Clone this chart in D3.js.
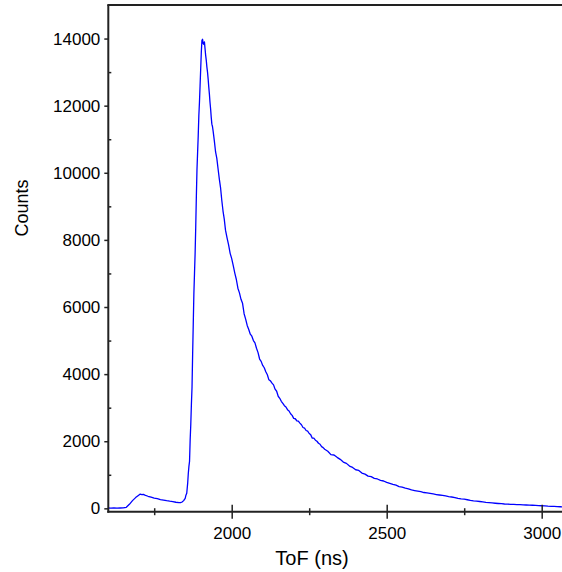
<!DOCTYPE html>
<html>
<head>
<meta charset="utf-8">
<script src="https://cdn.jsdelivr.net/npm/d3@7"></script>
<style>
html,body{margin:0;padding:0;background:#fff;}
svg{display:block;}
text{font-family:"Liberation Sans",Arial,sans-serif;fill:#000;}
</style>
</head>
<body>
<svg id="chart" width="562" height="572"></svg>
<script>
// ToF (ns) sample positions
const tof = [
 1600,1610,1620,1630,1640,1650,1660,1670,1680,1690,1700,1705,1710,1715,1720,1730,1740,1750,1760,1770,1780,1790,1800,1810,1820,1830,1835,1840,1845,1850,
 1852,1855,1858,1860,1862,1864,1866,1868,1870,1872,1874,1876,1878,1880,1882,1884,1886,1888,1890,1892,1894,1896,1898,1900,1902,1904,1906,1908,1910,1912,1914,1916,1918,1920,1922,1924,1926,1928,1930,1932,1934,1936,1938,
 1940,1944,1948,1952,1956,1960,1964,1968,1972,1976,1980,1985,1990,1995,2000,2005,2010,2015,2020,2025,2030,2035,2040,2045,2050,2055,2060,2065,2070,2075,2080,2085,2090,2095,2100,2105,2110,2115,2120,2125,2130,2135,2140,2145,2150,2155,2160,2165,2170,2175,2180,2185,2190,2195,2200,2205,2210,2215,2220,2225,2230,2235,2240,2245,2250,2255,2260,2265,2270,2275,2280,2285,2290,2295,2300,
 2310,2320,2330,2340,2350,2360,2370,2380,2390,2400,2410,2420,2430,2440,2450,2460,2470,2480,2490,2500,
 2510,2520,2530,2540,2550,2560,2570,2580,2590,2600,2610,2620,2630,2640,2650,2660,2670,2680,2690,2700,
 2710,2720,2730,2740,2750,2760,2770,2780,2790,2800,2810,2820,2830,2840,2850,2860,2870,2880,2890,2900,
 2910,2920,2930,2940,2950,2960,2970,2980,2990,3000,3010,3020,3030,3040,3050,3060,3070,3080
];
// Counts at each ToF position
const counts = [
 10,8,12,6,10,14,30,120,230,320,390,425,410,415,395,360,335,305,290,262,248,228,212,200,182,172,168,190,230,300,
 380,450,750,1040,1250,1400,2040,2500,3100,3600,4600,5500,6400,7000,7600,8400,9300,10100,10600,11100,11700,12100,12600,13100,13600,13950,13980,13850,13830,13900,13700,13500,13350,13150,13000,12800,12560,12350,12100,11900,11650,11450,11380,
 11250,10950,10620,10430,10120,9820,9560,9180,8860,8620,8290,8060,7850,7600,7440,7230,7010,6820,6560,6420,6230,6110,5800,5640,5450,5330,5190,5130,5000,4930,4770,4640,4450,4380,4260,4190,4070,3980,3830,3800,3730,3680,3550,3490,3340,3280,3190,3130,3060,3020,2940,2900,2820,2770,2680,2670,2610,2600,2540,2490,2410,2390,2320,2300,2230,2190,2090,2090,2030,2000,1940,1910,1840,1810,1760,
 1700,1600,1590,1520,1460,1380,1340,1260,1220,1150,1130,1050,1020,960,945,895,875,835,815,775,
 745,715,690,648,630,600,580,548,530,512,495,472,460,446,428,412,398,386,370,352,
 338,322,300,284,272,256,238,224,214,204,190,178,170,160,152,144,138,130,126,120,
 116,112,108,103,100,97,92,87,82,78,72,65,61,57,52,48,45,42
];
const xMajor = [2000, 2500, 3000];
const xMinor = [1750, 2250, 2750];
const yMajor = [0, 2000, 4000, 6000, 8000, 10000, 12000, 14000];
const yMinor = [1000, 3000, 5000, 7000, 9000, 11000, 13000];
const xTitle = "ToF (ns)";
const yTitle = "Counts";

const svg = d3.select("#chart");
const pL = 108.3, pR = 562, pT = 5, pB = 511.7;
const x = d3.scaleLinear().domain([2000, 3000]).range([231.7, 541.7]);
const y = d3.scaleLinear().domain([-100, 15000]).range([pB, pT]);

svg.append("defs").append("clipPath").attr("id","clip")
  .append("rect").attr("x", pL).attr("y", pT).attr("width", pR - pL).attr("height", pB - pT);

const data = tof.map((t,i)=>({t, c: counts[i]}));
svg.append("path")
  .datum(data)
  .attr("clip-path","url(#clip)")
  .attr("fill","none")
  .attr("stroke","#0000ff")
  .attr("stroke-width",1.3)
  .attr("stroke-linejoin","round")
  .attr("d", d3.line().x(d=>x(d.t)).y(d=>y(d.c)).curve(d3.curveLinear));

const axisColor = "#222";
// bottom axis
const gx = svg.append("g").attr("transform",`translate(0,${pB})`);
gx.call(d3.axisBottom(x).tickValues(xMajor).tickSize(7).tickPadding(8).tickFormat(d3.format("d")));
gx.select(".domain").remove();
gx.selectAll(".tick line").attr("y1",-7).attr("y2",7).attr("stroke",axisColor).attr("stroke-width",1.5);
gx.selectAll(".tick text").attr("font-size",17).attr("font-family","Liberation Sans, Arial, sans-serif");
const gxm = svg.append("g").attr("transform",`translate(0,${pB})`);
gxm.call(d3.axisBottom(x).tickValues(xMinor).tickSize(3.5).tickFormat(""));
gxm.select(".domain").remove();
gxm.selectAll(".tick line").attr("y1",-3.5).attr("y2",3.5).attr("stroke",axisColor).attr("stroke-width",1.5);

// left axis
const gy = svg.append("g").attr("transform",`translate(${pL},0)`);
gy.call(d3.axisLeft(y).tickValues(yMajor).tickSize(4).tickPadding(4).tickFormat(d3.format("d")));
gy.select(".domain").remove();
gy.selectAll(".tick line").attr("stroke",axisColor).attr("stroke-width",1.5);
gy.selectAll(".tick text").attr("font-size",17).attr("font-family","Liberation Sans, Arial, sans-serif");
const gym = svg.append("g").attr("transform",`translate(${pL},0)`);
gym.call(d3.axisRight(y).tickValues(yMinor).tickSize(3).tickFormat(""));
gym.select(".domain").remove();
gym.selectAll(".tick line").attr("stroke",axisColor).attr("stroke-width",1.5);

// frame lines
svg.append("line").attr("x1",pL).attr("x2",pL).attr("y1",pT).attr("y2",pB+1)
  .attr("stroke",axisColor).attr("stroke-width",2);
svg.append("line").attr("x1",pL-1).attr("x2",pR).attr("y1",pB).attr("y2",pB)
  .attr("stroke",axisColor).attr("stroke-width",2);
svg.append("line").attr("x1",pL-1).attr("x2",pR).attr("y1",pT).attr("y2",pT)
  .attr("stroke",axisColor).attr("stroke-width",2);

// titles
svg.append("text").attr("x",312).attr("y",565).attr("text-anchor","middle")
  .attr("font-size",20).text(xTitle);
svg.append("text").attr("transform","translate(28,208) rotate(-90)").attr("text-anchor","middle")
  .attr("font-size",18).text(yTitle);
</script>
</body>
</html>
